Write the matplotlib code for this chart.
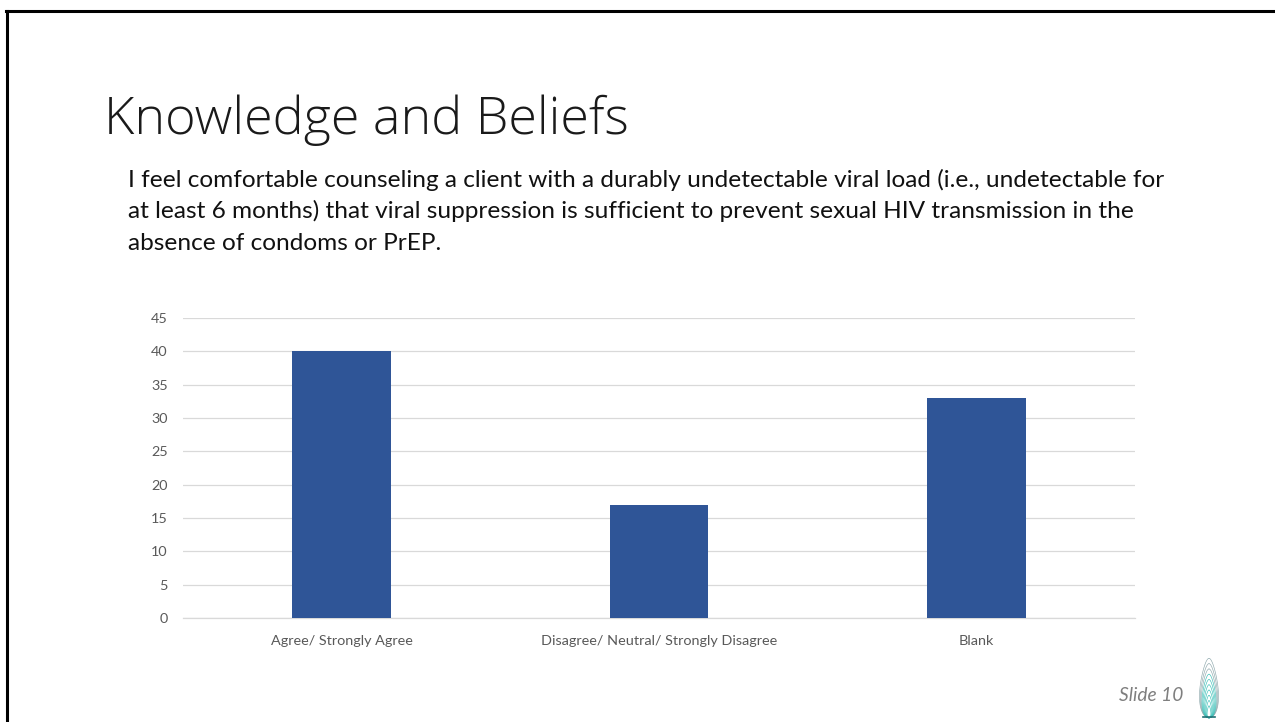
import numpy as np
import matplotlib
matplotlib.use("Agg")
import matplotlib.pyplot as plt
from matplotlib.lines import Line2D

### Data
categories = ["Agree/ Strongly Agree", "Disagree/ Neutral/ Strongly Disagree", "Blank"]
counts = [40, 17, 33]
y_ticks = [0, 5, 10, 15, 20, 25, 30, 35, 40, 45]

title = "Knowledge and Beliefs"
question_lines = [
    "I feel comfortable counseling a client with a durably undetectable viral load (i.e., undetectable for",
    "at least 6 months) that viral suppression is sufficient to prevent sexual HIV transmission in the",
    "absence of condoms or PrEP.",
]

W, H = 1275, 722
fig = plt.figure(figsize=(W / 100, H / 100), dpi=100)
fig.patch.set_facecolor("white")

# slide frame (top and left edges)
fig.add_artist(Line2D([6 / W, 1], [1 - 11 / H, 1 - 11 / H], color="black", lw=2.2,
                      transform=fig.transFigure))
fig.add_artist(Line2D([7 / W, 7 / W], [0, 1 - 11 / H], color="black", lw=2.2,
                      transform=fig.transFigure))

# slide title and question text
fig.text(104 / W, 1 - 134 / H, title, fontsize=37.5, family="Open Sans", weight="light",
         color="#1a1a1a", va="baseline")
for i, line in enumerate(question_lines):
    fig.text(128 / W, 1 - (187 + 31.5 * i) / H, line, fontsize=17.6, family="Lato",
             color="#111111", va="baseline")

### Bar chart
ax = fig.add_axes([183 / W, 1 - 618 / H, (1135 - 183) / W, 300 / H])
x = np.arange(len(categories))
ax.bar(x, counts, width=0.31, color="#2F5597", zorder=3)
ax.set_xlim(-0.5, len(categories) - 0.5)
ax.set_ylim(0, 45)
ax.set_yticks(y_ticks)
ax.set_xticks(x)
ax.set_xticklabels(categories)
ax.grid(axis="y", color="#D9D9D9", lw=0.9, zorder=0)
for s in ["top", "right", "left"]:
    ax.spines[s].set_visible(False)
ax.spines["bottom"].set_color("#D9D9D9")
ax.spines["bottom"].set_linewidth(0.9)
ax.tick_params(axis="both", length=0, labelsize=10.4, labelcolor="#595959")
ax.tick_params(axis="y", pad=11)
ax.tick_params(axis="x", pad=12)
for lbl in ax.get_xticklabels() + ax.get_yticklabels():
    lbl.set_family("Lato")

# slide number
fig.text(1183 / W, 1 - 701 / H, "Slide 10", fontsize=13.8, family="Lato", style="italic",
         color="#7f7f7f", ha="right", va="baseline")

# teardrop logo: nested outlines shrinking toward the base
lax = fig.add_axes([1195 / W, 1 - 719 / H, 28 / W, 63 / H])
lax.set_xlim(-1.1, 1.1)
lax.set_ylim(-0.05, 2.6)
lax.axis("off")
u = np.linspace(-np.pi / 2, np.pi / 2, 80)
for k, s in enumerate(np.linspace(1.0, 0.2, 10)):
    hx = s * 0.95 * np.cos(u) * (1 - 0.5 * (np.sin(u) + 1) / 2)
    hy = s * 2.5 * (np.sin(u) + 1) / 2
    col = "#8fa9ad" if k < 3 else "#3cc0b8"
    lax.plot(hx, hy, color=col, lw=0.45)
    lax.plot(-hx, hy, color=col, lw=0.45)
lax.plot([-0.5, 0.5], [0.02, 0.02], color="#1f6f73", lw=1.2)

fig.savefig("out.png", dpi=100)
